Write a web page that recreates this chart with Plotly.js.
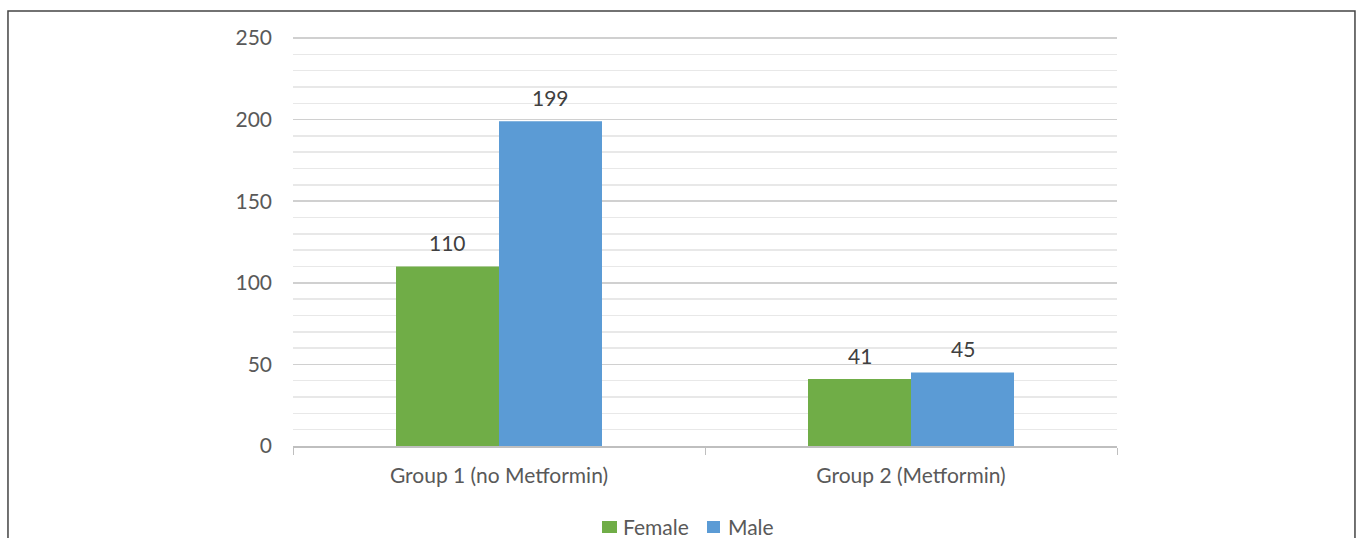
<!DOCTYPE html>
<html>
<head>
<meta charset="utf-8">
<script src="https://cdn.plot.ly/plotly-3.0.1.min.js"></script>
<style>
  html, body { margin: 0; padding: 0; background: #ffffff; }
  #chart { width: 1360px; height: 538px; }
</style>
</head>
<body>
<div id="chart"></div>
<script>
// Patient counts by study group and sex
const groups = ['Group 1 (no Metformin)', 'Group 2 (Metformin)'];
const seriesNames = ['Female', 'Male'];
const seriesColors = ['#70AD47', '#5B9BD5'];
const female = [110, 41];
const male = [199, 45];
const yTicks = [0, 50, 100, 150, 200, 250];

const FONT = 'Lato, "Open Sans", sans-serif';
const seriesValues = [female, male];

const traces = seriesValues.map((vals, k) => ({
  type: 'bar', name: seriesNames[k], x: groups, y: vals,
  marker: { color: seriesColors[k] }, hoverinfo: 'x+y+name'
}));

// Value labels above each bar; grouped bars sit a quarter category left/right of centre
const barOffset = 0.125;
const annotations = [];
seriesValues.forEach((vals, k) => {
  const dx = k === 0 ? -barOffset : barOffset;
  vals.forEach((v, i) => {
    annotations.push({
      xref: 'x', yref: 'y', x: i + dx, y: v, text: String(v),
      showarrow: false, yanchor: 'middle', yshift: 24,
      font: { family: FONT, size: 21, color: '#404040' }
    });
  });
});

// Compact legend below the axis: square swatch followed closely by the series name
const shapes = [{
  type: 'rect', xref: 'paper', yref: 'paper',
  x0: -0.3459, x1: 1.2888, y0: -0.4, y1: 1.061,
  line: { color: '#444444', width: 1.5 }, fillcolor: 'rgba(0,0,0,0)', layer: 'below'
}];
const legendItems = [
  { x0: 0.375, x1: 0.3932, tx: 0.398 },
  { x0: 0.5024, x1: 0.5182, tx: 0.5255 }
];
legendItems.forEach((it, k) => {
  shapes.push({
    type: 'rect', xref: 'paper', yref: 'paper',
    x0: it.x0, x1: it.x1, y0: -0.2122, y1: -0.1829,
    line: { width: 0 }, fillcolor: seriesColors[k]
  });
  annotations.push({
    xref: 'paper', yref: 'paper', x: it.tx, y: -0.1975,
    xanchor: 'left', yanchor: 'middle', showarrow: false,
    text: seriesNames[k], font: { family: FONT, size: 21, color: '#595959' }
  });
});

const layout = {
  width: 1360, height: 538,
  margin: { l: 293, r: 243, t: 36, b: 92, autoexpand: false },
  paper_bgcolor: '#ffffff', plot_bgcolor: '#ffffff',
  font: { family: FONT, size: 21, color: '#595959' },
  barmode: 'group', bargap: 0.5, bargroupgap: 0,
  xaxis: {
    type: 'category', range: [-0.5, 1.5],
    showline: true, linecolor: '#bfbfbf', linewidth: 1.5,
    ticks: 'outside', tickson: 'boundaries', ticklen: 7, tickcolor: '#bfbfbf',
    showgrid: false, zeroline: false, ticklabelstandoff: 10,
    tickfont: { size: 21, color: '#595959' }
  },
  yaxis: {
    range: [0, 251.2], tickvals: yTicks, ticktext: yTicks.map(String),
    showline: false, zeroline: false,
    gridcolor: '#d0d0d0', gridwidth: 1.5,
    ticklabelstandoff: 20,
    tickfont: { size: 21, color: '#595959' },
    minor: { dtick: 10, tick0: 0, showgrid: true, gridcolor: '#e8e8e8', gridwidth: 1.5 }
  },
  showlegend: false,
  annotations: annotations,
  shapes: shapes
};

Plotly.newPlot('chart', traces, layout, { displayModeBar: false, staticPlot: true });
</script>
</body>
</html>
